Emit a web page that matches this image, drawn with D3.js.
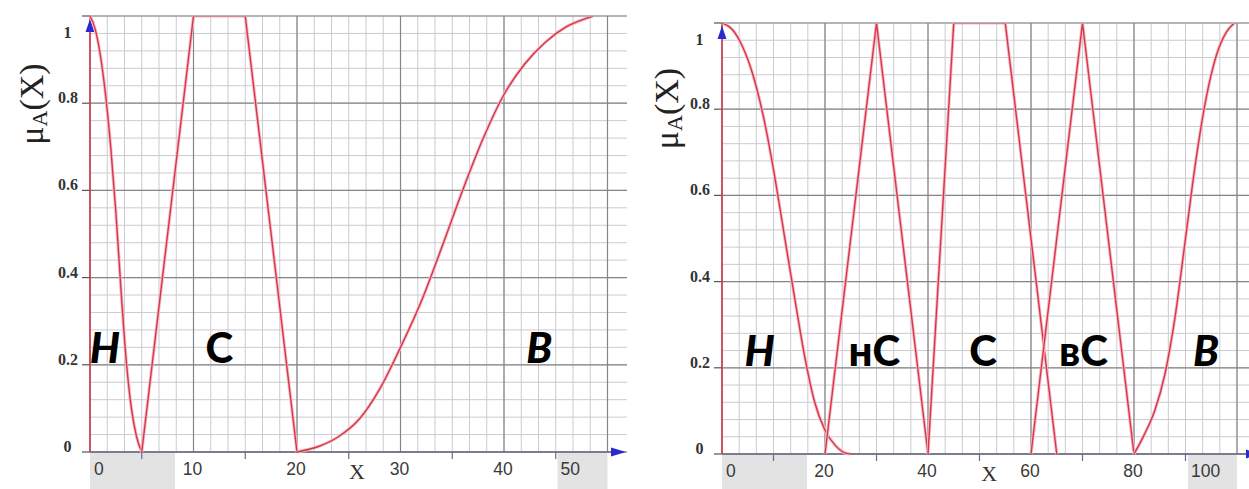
<!DOCTYPE html>
<html>
<head>
<meta charset="utf-8">
<script src="https://cdn.jsdelivr.net/npm/d3@7"></script>
<style>
  html, body { margin: 0; padding: 0; background: #fff; }
  svg { display: block; }
</style>
</head>
<body>
<svg id="chart" width="1249" height="489"></svg>
<script>
// y axis (shared by both panels)
const yTicks = [0, 0.2, 0.4, 0.6, 0.8, 1];
const yTickLabels = ['0', '0.2', '0.4', '0.6', '0.8', '1'];

// left panel: 3 terms on 0..50
const leftXTicks = [0, 10, 20, 30, 40, 50];
const leftXTickLabels = ['0', '10', '20', '30', '40', '50'];
const leftH = [[0, 1], [0.5, 0.97], [1, 0.91], [1.5, 0.82], [2, 0.7], [2.5, 0.55], [3, 0.37], [3.5, 0.21], [4, 0.1], [4.5, 0.035], [5, 0]];
const leftC = [[5, 0], [10, 1], [15, 1], [20, 0]];
const leftB = [[20, 0], [22, 0.012], [24, 0.035], [26, 0.075], [28, 0.145], [30, 0.24], [32, 0.345], [34, 0.47], [36, 0.6], [38, 0.72], [40, 0.82], [42, 0.89], [44, 0.94], [46, 0.975], [48, 0.995], [48.6, 1]];
const leftTerms = ['Н', 'С', 'В'];
const leftTermX = [1.45, 12.5, 43.4];
const leftTermItalic = [true, false, true];

// right panel: 5 terms on 0..100
const rightXTicks = [0, 20, 40, 60, 80, 100];
const rightXTickLabels = ['0', '20', '40', '60', '80', '100'];
const rightH = [[0, 1], [2, 0.985], [4, 0.945], [6, 0.88], [8, 0.785], [10, 0.66], [12, 0.515], [14, 0.37], [16, 0.23], [18, 0.12], [20, 0.055], [22, 0.02], [24, 0.002], [25, 0]];
const rightHC = [[20, 0], [30, 1], [40, 0]];
const rightC = [[40, 0], [45, 1], [55, 1], [65, 0]];
const rightBC = [[60, 0], [70, 1], [80, 0]];
const rightB = [[80, 0], [82, 0.045], [84, 0.1], [86, 0.185], [88, 0.32], [90, 0.5], [92, 0.68], [94, 0.825], [96, 0.925], [98, 0.98], [99.5, 1]];
const rightTerms = ['Н', 'нС', 'С', 'вС', 'В'];
const rightTermX = [7.3, 29.6, 50.7, 70.2, 94];
const rightTermItalic = [true, false, false, false, true];

const RED = '#d8364a';
const BLUE = '#2a2ad0';

const svg = d3.select('#chart');

function drawPanel(cfg) {
  const x = d3.scaleLinear().domain(cfg.domain).range([cfg.left, cfg.right]);
  const y = d3.scaleLinear().domain([0, 1]).range([cfg.bottom, cfg.top]);
  const g = svg.append('g');

  // curves are clipped at the top of the plot, like the original screen
  svg.append('clipPath').attr('id', cfg.id + '-clip')
    .append('rect').attr('x', cfg.left - 5).attr('y', cfg.top + 0.6)
    .attr('width', cfg.right - cfg.left + 10).attr('height', cfg.bottom - cfg.top + 5);

  // grey boxes under the first/last tick labels
  g.append('rect').attr('x', cfg.left).attr('y', cfg.bottom + 1)
    .attr('width', cfg.firstBox).attr('height', 489 - cfg.bottom).attr('fill', '#e3e3e3');
  g.append('rect').attr('x', cfg.right - cfg.lastBox).attr('y', cfg.bottom + 1)
    .attr('width', cfg.lastBox).attr('height', 489 - cfg.bottom).attr('fill', '#e3e3e3');

  // minor grid
  const vx = d3.range(cfg.domain[0], cfg.domain[1] + 1e-6, cfg.minorX);
  const hy = d3.range(0, 1 + 1e-6, 0.04);
  g.selectAll('.vminor').data(vx).join('line')
    .attr('x1', d => x(d)).attr('x2', d => x(d))
    .attr('y1', cfg.top).attr('y2', cfg.bottom)
    .attr('stroke', '#cbcbd0').attr('stroke-width', 1);
  g.selectAll('.hminor').data(hy).join('line')
    .attr('x1', cfg.left).attr('x2', cfg.gridEnd)
    .attr('y1', d => y(d)).attr('y2', d => y(d))
    .attr('stroke', '#cbcbd0').attr('stroke-width', 1);

  // major grid
  g.selectAll('.vmajor').data(cfg.xTicks).join('line')
    .attr('x1', d => x(d)).attr('x2', d => x(d))
    .attr('y1', cfg.top).attr('y2', cfg.bottom)
    .attr('stroke', '#858585').attr('stroke-width', 1.2);
  g.selectAll('.hmajor').data(yTicks).join('line')
    .attr('x1', cfg.left).attr('x2', cfg.gridEnd)
    .attr('y1', d => y(d)).attr('y2', d => y(d))
    .attr('stroke', '#858585').attr('stroke-width', 1.2);

  // x axis line + small ticks every half step
  g.append('line').attr('x1', cfg.left).attr('x2', cfg.gridEnd - 14)
    .attr('y1', cfg.bottom).attr('y2', cfg.bottom)
    .attr('stroke', '#6a6a80').attr('stroke-width', 1.6);
  const halfTicks = d3.range(cfg.domain[0] + cfg.tickStep / 2, cfg.domain[1], cfg.tickStep);
  g.selectAll('.xt').data(halfTicks).join('line')
    .attr('x1', d => x(d)).attr('x2', d => x(d))
    .attr('y1', cfg.bottom).attr('y2', cfg.bottom + 7)
    .attr('stroke', '#6a6a90').attr('stroke-width', 1.2);

  // y ticks
  g.selectAll('.yt').data(yTicks).join('line')
    .attr('x1', cfg.left - 8).attr('x2', cfg.left)
    .attr('y1', d => y(d)).attr('y2', d => y(d))
    .attr('stroke', '#555').attr('stroke-width', 1.2);

  // y axis (red) and arrows
  g.append('line').attr('x1', cfg.left).attr('x2', cfg.left)
    .attr('y1', cfg.top).attr('y2', cfg.bottom)
    .attr('stroke', RED).attr('stroke-width', 1.5);
  g.append('path')
    .attr('d', `M${cfg.left},${cfg.top + 3}L${cfg.left - 4.5},${cfg.top + 16}L${cfg.left + 4.5},${cfg.top + 16}Z`)
    .attr('fill', BLUE);
  const ax = cfg.gridEnd - 16;
  g.append('path')
    .attr('d', `M${ax},${cfg.bottom - 4.5}L${ax + 15},${cfg.bottom}L${ax},${cfg.bottom + 4.5}Z`)
    .attr('fill', BLUE);

  // curves
  const smooth = d3.line().x(d => x(d[0])).y(d => y(d[1])).curve(d3.curveMonotoneX);
  const straight = d3.line().x(d => x(d[0])).y(d => y(d[1]));
  const cg = g.append('g').attr('clip-path', `url(#${cfg.id}-clip)`);
  cfg.series.forEach(s => {
    const gen = s.smooth ? smooth : straight;
    cg.append('path').attr('d', gen(s.data)).attr('fill', 'none')
      .attr('stroke', '#f3bcc4').attr('stroke-width', 3.2).attr('stroke-linejoin', 'round');
    cg.append('path').attr('d', gen(s.data)).attr('fill', 'none')
      .attr('stroke', RED).attr('stroke-width', 1.4).attr('stroke-linejoin', 'round');
  });

  // y tick labels
  g.selectAll('.yl').data(yTicks).join('text')
    .attr('x', (d, i) => cfg.left - (yTickLabels[i].length === 1 ? 18.5 : 12))
    .attr('y', d => y(d) + (d === 1 ? 22 : 0))
    .attr('text-anchor', 'end')
    .attr('font-family', '"Liberation Serif", "Times New Roman", serif')
    .attr('font-weight', 'bold').attr('font-size', 16).attr('fill', '#333')
    .text((d, i) => yTickLabels[i]);

  // x tick labels: edge labels sit at the left of the grey boxes
  const n = cfg.xTicks.length;
  g.selectAll('.xl').data(cfg.xTicks).join('text')
    .attr('x', (d, i) => i === 0 ? cfg.left + 4 : i === n - 1 ? cfg.right - cfg.lastBox + 3 : x(d) - 1)
    .attr('y', cfg.bottom + 23)
    .attr('text-anchor', (d, i) => (i === 0 || i === n - 1) ? 'start' : 'middle')
    .attr('font-family', '"Liberation Sans", Arial, sans-serif')
    .attr('font-size', 17.5).attr('fill', '#3a3a3a')
    .text((d, i) => cfg.xTickLabels[i]);

  // x axis title
  g.append('text').attr('x', x(cfg.xTitleAt)).attr('y', cfg.bottom + 27)
    .attr('text-anchor', 'middle')
    .attr('font-family', '"Liberation Serif", "Times New Roman", serif')
    .attr('font-size', 22).attr('fill', '#333').text('X');

  // y axis title μA(X)
  const yt = g.append('text')
    .attr('transform', `translate(${cfg.left - cfg.yTitleDx},${(cfg.top + cfg.bottom) / 2 - 130}) rotate(-90)`)
    .attr('text-anchor', 'middle')
    .attr('font-family', '"Liberation Serif", "Times New Roman", serif')
    .attr('font-size', 34).attr('fill', '#222');
  yt.append('tspan').text('μ');
  yt.append('tspan').attr('font-size', 22).attr('dy', 4).text('A');
  yt.append('tspan').attr('dy', -4).text('(X)');

  // term labels
  g.selectAll('.term').data(cfg.terms).join('text')
    .attr('x', (d, i) => x(cfg.termX[i]))
    .attr('y', y(0.2) - 2)
    .attr('text-anchor', 'middle')
    .attr('font-family', 'Lato, "Open Sans", sans-serif')
    .attr('font-weight', 900)
    .attr('font-style', (d, i) => cfg.termItalic[i] ? 'italic' : 'normal')
    .attr('font-size', 42).attr('fill', '#000')
    .text(d => d);
}

drawPanel({
  id: 'left',
  domain: [0, 50], left: 90, right: 607.5, top: 16, bottom: 452, gridEnd: 627,
  minorX: 10 / 6, tickStep: 10, xTicks: leftXTicks, xTickLabels: leftXTickLabels,
  firstBox: 85, lastBox: 50, xTitleAt: 25.8, yTitleDx: 47,
  series: [
    { data: leftH, smooth: true },
    { data: leftC, smooth: false },
    { data: leftB, smooth: true }
  ],
  terms: leftTerms, termX: leftTermX, termItalic: leftTermItalic
});

drawPanel({
  id: 'right',
  domain: [0, 100], left: 722, right: 1237, top: 23, bottom: 454, gridEnd: 1262,
  minorX: 10 / 3, tickStep: 20, xTicks: rightXTicks, xTickLabels: rightXTickLabels,
  firstBox: 85, lastBox: 49, xTitleAt: 51.9, yTitleDx: 44,
  series: [
    { data: rightH, smooth: true },
    { data: rightHC, smooth: false },
    { data: rightC, smooth: false },
    { data: rightBC, smooth: false },
    { data: rightB, smooth: true }
  ],
  terms: rightTerms, termX: rightTermX, termItalic: rightTermItalic
});
</script>
</body>
</html>
